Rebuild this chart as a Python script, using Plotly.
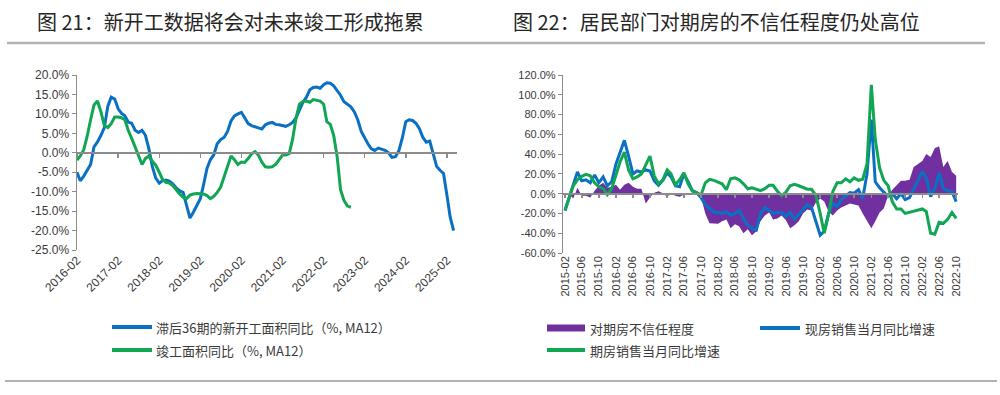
import pandas as pd
import plotly.graph_objects as go

# ---------------- data: left chart (monthly, starting 2016-02) ----------------
left_start = "2016-02-01"
left_end = "2025-05-01"
left_title = "图 21：新开工数据将会对未来竣工形成拖累"
left_names = ["滞后36期的新开工面积同比（%, MA12）", "竣工面积同比（%, MA12）"]
new_start_lag36 = [
    -5.0, -7.2, -6.0, -4.5, -3.0, 1.5, 2.8, 4.5, 6.5, 12.0,
    14.3, 13.8, 11.3, 10.2, 9.5, 7.9, 7.6, 5.8, 5.2, 5.8,
    4.5, 1.0, -3.5, -6.5, -7.8, -7.2, -7.0, -7.3, -8.0, -9.0,
    -9.8, -10.2, -13.5, -16.8, -15.3, -13.5, -11.8, -8.3, -4.0, -1.8,
    -0.5, 2.3, 3.4, 4.0, 5.5, 8.2, 9.5, 10.0, 10.4, 9.0,
    7.5, 7.0, 6.7, 6.3, 6.1, 7.2, 7.6, 7.8, 7.3, 7.2,
    7.0, 6.8, 7.2, 7.8, 9.0, 11.0, 13.0, 14.3, 16.2, 16.8,
    16.9, 16.6, 17.5, 18.0, 17.9, 17.2, 16.0, 14.8, 13.1, 12.5,
    11.8, 10.5, 8.5, 5.5, 3.8, 2.3, 1.0, 0.6, 1.2, 1.0,
    0.6, 0.0, -1.2, -1.0, 0.5, 3.8, 8.0, 8.5, 8.3, 7.6,
    6.2, 4.0, 2.7, 3.0, -0.5, -3.5, -4.5, -5.3, -11.0, -16.5,
    -20.0,
]
completion = [
    -1.9, -0.8, 0.8, 4.2, 8.5, 12.3, 13.3, 10.5, 7.0, 6.5,
    7.5, 9.2, 9.2, 9.0, 8.5, 5.8, 3.7, 1.5, -1.0, -3.0,
    -1.5, -0.8, -2.2, -3.2, -5.0, -6.8, -7.6, -7.8, -8.4, -9.5,
    -10.6, -11.4, -11.8, -10.9, -10.6, -10.5, -10.5, -10.6, -11.0, -11.8,
    -11.2, -10.2, -8.8, -6.0, -3.5, -0.8, -1.8, -3.0, -2.4, -2.5,
    -1.5, -0.3, 0.3, -0.6, -2.4, -3.6, -3.7, -3.6, -3.0, -1.7,
    -0.6, -0.6, -0.2, 3.5, 9.0, 12.5, 13.2, 13.3, 13.0, 13.7,
    13.5, 13.3, 12.5, 8.0, 7.3, 4.5, -1.0, -9.5, -12.3, -13.7,
    -14.0,
]
left_ticks = [20, 15, 10, 5, 0, -5, -10, -15, -20, -25]

# ---------------- data: right chart (monthly, starting 2015-02) ----------------
right_start = "2015-02-01"
right_title = "图 22：居民部门对期房的不信任程度仍处高位"
right_names = ["对期房不信任程度", "现房销售当月同比增速", "期房销售当月同比增速"]
distrust = [
    0, 0, -5, 6, -2, -2, -4, 3, 8, 11,
    6, 7, 9, 4, 9, 11, 7, 5, 5, -10,
    -4, 1, 2.5, 0.5, -3, 0, -2, -3, -1, 0,
    0, 0, -3, -20, -30, -30.4, -30.4, -28, -26, -35,
    -31, -33, -40, -36, -42, -38, -28, -22, -19, -26,
    -25, -22, -27, -35, -32, -28, -20, -16, -17, -9,
    -5, -8, -18, -22, -17, -14, -12, -10, -11, -12,
    -20, -27, -35, -28, -19, -15, -2, 4, 8, 13,
    13, 14, 27, 30, 33, 40, 37, 46, 48, 27,
    33, 22, 18,
]
existing_sales = [
    -17, -5, 8, 22, 13, 14, 11, 19, 11, 17,
    8, 12, 30, 42, 54, 38, 20, 23, 22, 24,
    23, 13, 8.5, 13.5, 21, 17, 8, 7, 20, 12,
    3, 1, -4, -11, -15, -18.5, -19, -20, -18, -22,
    -20, -17, -25, -32, -35, -37, -20, -14, -17, -20,
    -19, -19, -23, -19, -26, -21, -17, -11, -14, -28,
    -42, -38, -20, -10, -13, -6, -2, 1, 0.5, 4,
    -5, 20, 75, 12, 6, 2, -3, 0, -5, 0,
    -6, -4, 5, 14, 22.5, 16, -3, 5, 21, 5,
    3, 2, -8,
]
presale_sales = [
    -17, -5, 8, 14, 17.5, 19.5, 18, 11, 7, 5,
    -1, 5, 18, 32, 42, 24, 15, 17, 20, 30,
    38, 18, 10, 14, 24, 20, 9, 14, 21, 10,
    2.5, 1, -1.5, 11, 14.5, 13.5, 12, 10, 4, 15,
    16, 14, 10, 5, 6, 4.5, 3, 5, 8.5, 8.5,
    2.5, -2, 1.5, 8, 9.5, 8, 6, 4.5, 4.4, -1.7,
    -20, -40, -21, 2, 11, 11, 15, 12, 16, 13.5,
    14.5, 30, 110, 55, 26, 13.5, 8, -8, -15.5, -15.5,
    -20, -19, -18, -17, -15.5, -18, -40, -41, -29, -30,
    -26, -19, -25,
]
right_ticks = [120, 100, 80, 60, 40, 20, 0, -20, -40, -60]

# ---------------- styles ----------------
BLUE = "#0a70c4"
GREEN = "#10a653"
PURPLE = "#7030a0"
AXIS = "#8c8c8c"
TXT = "#3a3a3a"
TICKFONT = "Liberation Sans, Arial, sans-serif"
CJK = "Noto Sans CJK SC, sans-serif"
W, H = 1000, 395


def px(x):
    return x / W


def py(y):
    return 1 - y / H


left_months = pd.date_range(left_start, periods=len(new_start_lag36), freq="MS")
left_months_c = pd.date_range(left_start, periods=len(completion), freq="MS")
right_months = pd.date_range(right_start, periods=len(distrust), freq="MS")

fig = go.Figure()
fig.add_trace(go.Scatter(x=left_months, y=new_start_lag36, mode="lines", name=left_names[0],
                         line=dict(color=BLUE, width=3), xaxis="x", yaxis="y"))
fig.add_trace(go.Scatter(x=left_months_c, y=completion, mode="lines", name=left_names[1],
                         line=dict(color=GREEN, width=3), xaxis="x", yaxis="y"))
fig.add_trace(go.Scatter(x=right_months, y=distrust, mode="lines", name=right_names[0],
                         line=dict(color=PURPLE, width=0), fill="tozeroy", fillcolor=PURPLE,
                         xaxis="x2", yaxis="y2"))
fig.add_trace(go.Scatter(x=right_months, y=existing_sales, mode="lines", name=right_names[1],
                         line=dict(color=BLUE, width=3), xaxis="x2", yaxis="y2"))
fig.add_trace(go.Scatter(x=right_months, y=presale_sales, mode="lines", name=right_names[2],
                         line=dict(color=GREEN, width=3), xaxis="x2", yaxis="y2"))
# helper (empty) traces so the zero-line axes get drawn
fig.add_trace(go.Scatter(x=[left_months[0]], y=[None], xaxis="x3", yaxis="y", showlegend=False, hoverinfo="skip"))
fig.add_trace(go.Scatter(x=[right_months[0]], y=[None], xaxis="x4", yaxis="y2", showlegend=False, hoverinfo="skip"))

L_dom = [px(77), px(457)]
L_ydom = [py(250), py(75)]
R_dom = [px(563.3), px(958)]
R_ydom = [py(253), py(75)]
L_rng = [min(left_ticks), max(left_ticks)]
R_rng = [min(right_ticks), max(right_ticks)]
L_zero = L_ydom[0] + (0 - L_rng[0]) / (L_rng[1] - L_rng[0]) * (L_ydom[1] - L_ydom[0])
R_zero = R_ydom[0] + (0 - R_rng[0]) / (R_rng[1] - R_rng[0]) * (R_ydom[1] - R_ydom[0])
R_range = ["2015-01-20", "2022-10-14"]

fig.update_layout(
    width=W, height=H, margin=dict(l=0, r=0, t=0, b=0, autoexpand=False),
    paper_bgcolor="white", plot_bgcolor="white", showlegend=False, hovermode=False,
    xaxis=dict(domain=L_dom, anchor="y", type="date", range=[left_start, left_end],
               tick0=left_start, dtick="M12", tickformat="%Y-%m", tickangle=-45,
               showline=False, showgrid=False, zeroline=False, ticks="", automargin=False,
               tickfont=dict(family=TICKFONT, size=12, color=TXT)),
    xaxis3=dict(domain=L_dom, overlaying="x", anchor="free", position=L_zero, type="date",
                range=[left_start, left_end], tick0=left_start, dtick="M12",
                showticklabels=False, showline=True, linecolor=AXIS, linewidth=2,
                ticks="outside", ticklen=4, tickcolor=AXIS, tickwidth=1.5, automargin=False,
                showgrid=False, zeroline=False),
    yaxis=dict(domain=L_ydom, anchor="x", range=L_rng, tickvals=left_ticks,
               ticktext=[f"{v:.1f}%" for v in left_ticks], showline=True, linecolor=AXIS,
               linewidth=1.5, ticks="outside", ticklen=4, tickcolor=AXIS, showgrid=False,
               zeroline=False, automargin=False,
               tickfont=dict(family=TICKFONT, size=12, color=TXT)),
    xaxis2=dict(domain=R_dom, anchor="y2", type="date", range=R_range,
                tick0=right_start, dtick="M4", tickformat="%Y-%m", tickangle=-90,
                showline=False, showgrid=False, zeroline=False, ticks="", automargin=False,
                tickfont=dict(family=TICKFONT, size=11, color=TXT)),
    xaxis4=dict(domain=R_dom, overlaying="x2", anchor="free", position=R_zero, type="date",
                range=R_range, tick0=right_start, dtick="M4",
                showticklabels=False, showline=True, linecolor=AXIS, linewidth=2,
                ticks="outside", ticklen=3, tickcolor=AXIS, tickwidth=1.5, automargin=False,
                showgrid=False, zeroline=False),
    yaxis2=dict(domain=R_ydom, anchor="x2", range=R_rng, tickvals=right_ticks,
                ticktext=[f"{v:.1f}%" for v in right_ticks], showline=True, linecolor=AXIS,
                linewidth=1.5, ticks="outside", ticklen=4, tickcolor=AXIS, showgrid=False,
                zeroline=False, automargin=False,
                tickfont=dict(family=TICKFONT, size=11, color=TXT)),
)

RULE = "#b3b3b3"
shapes = [
    # title rules and bottom rule
    dict(type="line", xref="paper", yref="paper", x0=px(7), x1=px(500), y0=py(43), y1=py(43),
         line=dict(color=RULE, width=2.5), layer="above"),
    dict(type="line", xref="paper", yref="paper", x0=px(500), x1=px(985), y0=py(43), y1=py(43),
         line=dict(color=RULE, width=2.5), layer="above"),
    dict(type="line", xref="paper", yref="paper", x0=px(5), x1=px(997), y0=py(381), y1=py(381),
         line=dict(color=RULE, width=2)),
    # legend swatches
    dict(type="line", xref="paper", yref="paper", x0=px(112), x1=px(152), y0=py(327), y1=py(327),
         line=dict(color=BLUE, width=4)),
    dict(type="line", xref="paper", yref="paper", x0=px(112), x1=px(152), y0=py(350), y1=py(350),
         line=dict(color=GREEN, width=4)),
    dict(type="rect", xref="paper", yref="paper", x0=px(547), x1=px(585), y0=py(331.5), y1=py(324.5),
         fillcolor=PURPLE, line=dict(width=0)),
    dict(type="line", xref="paper", yref="paper", x0=px(760), x1=px(800), y0=py(328), y1=py(328),
         line=dict(color=BLUE, width=4)),
    dict(type="line", xref="paper", yref="paper", x0=px(547), x1=px(585), y0=py(350), y1=py(350),
         line=dict(color=GREEN, width=4)),
]


def label(text, x, y, size=13, color=TXT):
    return dict(text=text, xref="paper", yref="paper", x=px(x), y=py(y), xanchor="left",
                yanchor="middle", showarrow=False, font=dict(family=CJK, size=size, color=color))


annotations = [
    label(left_title, 35, 22, size=20, color="#262626"),
    label(right_title, 511, 22, size=20, color="#262626"),
    label(left_names[0], 154, 327),
    label(left_names[1], 154, 350),
    label(right_names[0], 588, 328),
    label(right_names[1], 803, 328),
    label(right_names[2], 588, 350),
]
fig.update_layout(shapes=shapes, annotations=annotations)

fig.write_html("out.html", config={"displayModeBar": False, "staticPlot": True},
               post_script="document.body.style.margin='0';document.body.style.overflow='hidden';")
